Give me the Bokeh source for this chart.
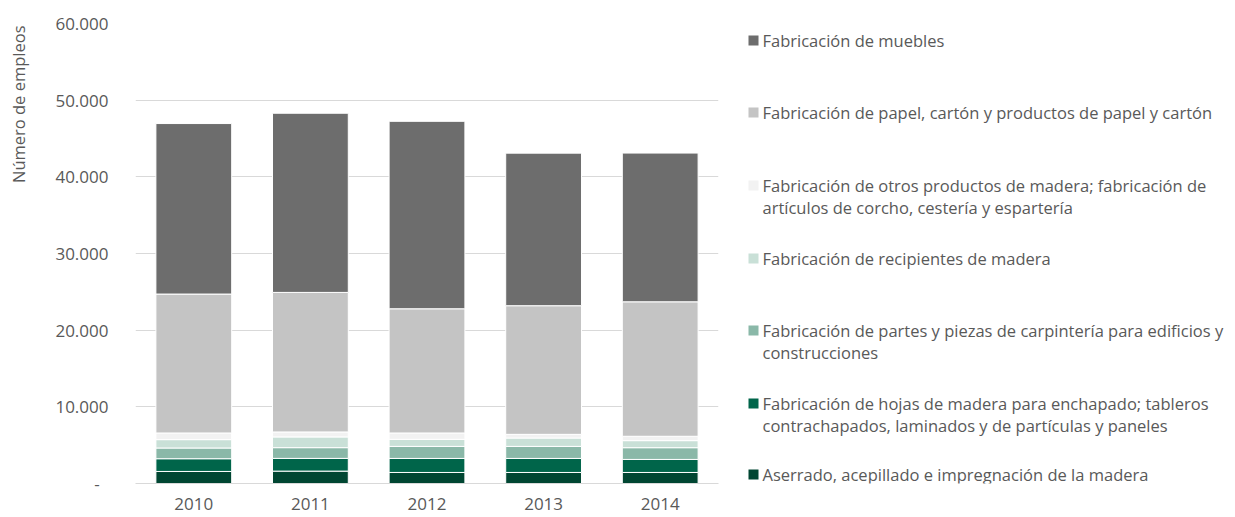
import math
from bokeh.plotting import figure
from bokeh.layouts import row
from bokeh.models import FixedTicker, CustomJSTickFormatter
from bokeh.core.properties import value
from bokeh.embed import file_html
from bokeh.resources import INLINE

years = ["2010", "2011", "2012", "2013", "2014"]
aserrado = [1570, 1615, 1440, 1440, 1440]
hojas = [1660, 1660, 1830, 1830, 1700]
partes = [1400, 1400, 1570, 1570, 1530]
recipientes = [1090, 1400, 920, 1090, 920]
otros = [870, 650, 830, 480, 570]
papel = [18120, 18200, 16200, 16780, 17540]
muebles = [22240, 23370, 24450, 19900, 19400]

series_keys = ["aserrado", "hojas", "partes", "recipientes", "otros", "papel", "muebles"]
series_labels = [
    "Aserrado, acepillado e impregnación de la madera",
    "Fabricación de hojas de madera para enchapado; tableros\ncontrachapados,  laminados y de partículas y paneles",
    "Fabricación de partes y piezas de carpintería para edificios y\nconstrucciones",
    "Fabricación de recipientes de madera",
    "Fabricación de otros productos de madera; fabricación de\nartículos de corcho, cestería y espartería",
    "Fabricación de papel, cartón y productos de papel y cartón",
    "Fabricación de muebles",
]
colors = ["#004632", "#00654a", "#8ab8a8", "#c9e0d7", "#f2f2f2", "#c4c4c4", "#6d6d6d"]
y_ticks = [0, 10000, 20000, 30000, 40000, 50000, 60000]
y_title = "Número de empleos"

FONT = "Open Sans"
TXT = "#595959"

data = dict(years=years, aserrado=aserrado, hojas=hojas, partes=partes,
            recipientes=recipientes, otros=otros, papel=papel, muebles=muebles)

TOP, FH, BOT = 23, 460, 34
TW = 40  # width of the narrow panel holding the y-axis title


def blank(fig):
    fig.axis.visible = False
    fig.grid.visible = False
    fig.outline_line_color = None


# y-axis title panel (page pixel coordinates)
tf = figure(frame_width=TW, frame_height=FH, x_range=(0, TW), y_range=(TOP + FH, TOP),
            output_backend="svg", toolbar_location=None,
            min_border_left=0, min_border_right=0, min_border_top=TOP, min_border_bottom=BOT)
blank(tf)
tf.text(x=[18], y=[25], text=[y_title], angle=math.pi / 2, text_align="right",
        text_baseline="middle", text_font=value(FONT), text_font_size="16.5px",
        text_color=TXT)

p = figure(x_range=years, y_range=(0, 60000), frame_width=583, frame_height=FH,
           output_backend="svg", toolbar_location=None,
           min_border_left=135 - TW, min_border_right=10, min_border_top=TOP, min_border_bottom=BOT)
p.vbar_stack(series_keys, x="years", width=0.65, color=colors,
             line_color="white", line_width=1, source=data)

p.outline_line_color = None
p.xgrid.grid_line_color = None
p.ygrid.grid_line_color = "#d9d9d9"
p.ygrid.grid_line_width = 1

p.yaxis.ticker = FixedTicker(ticks=y_ticks)
p.yaxis.formatter = CustomJSTickFormatter(code="""
if (tick == 0) { return '-\\u00a0\\u00a0'; }
return Math.round(tick).toString().replace(/\\B(?=(\\d{3})+(?!\\d))/g, '.');
""")
p.yaxis.axis_line_color = None
p.yaxis.major_tick_line_color = None
p.yaxis.minor_tick_line_color = None
p.yaxis.major_tick_out = 0
p.yaxis.major_tick_in = 0
p.yaxis.minor_tick_out = 0
p.yaxis.major_label_text_font = FONT
p.yaxis.major_label_text_font_size = "17px"
p.yaxis.major_label_text_color = TXT
p.yaxis.major_label_standoff = 27

p.xaxis.axis_line_color = "#d9d9d9"
p.xaxis.major_tick_line_color = None
p.xaxis.minor_tick_line_color = None
p.xaxis.major_tick_out = 0
p.xaxis.major_tick_in = 0
p.xaxis.major_label_text_font = FONT
p.xaxis.major_label_text_font_size = "17px"
p.xaxis.major_label_text_color = TXT
p.xaxis.major_label_standoff = 14

# legend panel, drawn in page pixel coordinates
left_edge = 135 + 583 + 10
lw = 1235 - left_edge
lg = figure(frame_width=lw, frame_height=FH, x_range=(left_edge, 1235),
            y_range=(TOP + FH, TOP),
            output_backend="svg", toolbar_location=None,
            min_border_left=0, min_border_right=0, min_border_top=TOP, min_border_bottom=BOT)
blank(lg)

item_y = [474, 403, 330, 258, 185, 112, 40]
line_gap = 22
sq_x, sq_y, tx_x, tx_y = [], [], [], []
texts = []
for yy, lab in zip(item_y, series_labels):
    sq_x.append(753)
    sq_y.append(yy)
    for k, ln in enumerate(lab.split("\n")):
        tx_x.append(762)
        tx_y.append(yy + k * line_gap)
        texts.append(ln)
lg.rect(x=sq_x, y=sq_y, width=10, height=10, color=colors, line_color=None)
lg.text(x=tx_x, y=tx_y, text=texts, text_font=value(FONT), text_font_size="16.5px",
        text_color=TXT, text_baseline="middle", text_align="left")

layout = row(tf, p, lg, spacing=0)
open("out.html", "w").write(file_html(layout, INLINE))
